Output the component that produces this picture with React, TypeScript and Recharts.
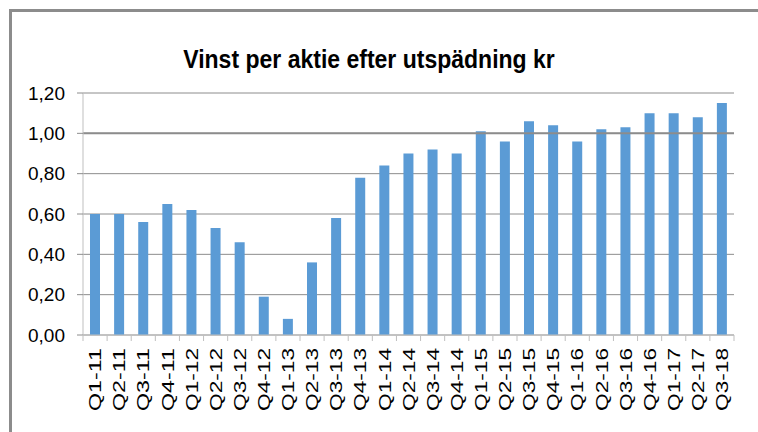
import React from "react";
import {
  BarChart,
  Bar,
  XAxis,
  YAxis,
  CartesianGrid,
  ReferenceLine,
} from "recharts";

const QUARTERS = [
  "Q1-11", "Q2-11", "Q3-11", "Q4-11",
  "Q1-12", "Q2-12", "Q3-12", "Q4-12",
  "Q1-13", "Q2-13", "Q3-13", "Q4-13",
  "Q1-14", "Q2-14", "Q3-14", "Q4-14",
  "Q1-15", "Q2-15", "Q3-15", "Q4-15",
  "Q1-16", "Q2-16", "Q3-16", "Q4-16",
  "Q1-17", "Q2-17", "Q3-18",
];

const EPS = [
  0.6, 0.6, 0.56, 0.65,
  0.62, 0.53, 0.46, 0.19,
  0.08, 0.36, 0.58, 0.78,
  0.84, 0.9, 0.92, 0.9,
  1.01, 0.96, 1.06, 1.04,
  0.96, 1.02, 1.03, 1.1,
  1.1, 1.08, 1.15,
];

const Y_TICKS = [0, 0.2, 0.4, 0.6, 0.8, 1.0, 1.2];

const TITLE = "Vinst per aktie efter utspädning kr";

const data = QUARTERS.map((q, i) => ({ q, eps: EPS[i] }));

const FONT = '"Liberation Sans", Arial, sans-serif';

// Excel-style x ticks: marks sit on the band edges, labels are rotated
function QuarterTick(props: any) {
  const { x, y, payload, index } = props;
  const half = payload?.offset ?? 0;
  const last = index === QUARTERS.length - 1;
  return (
    <g>
      <line x1={x - half} x2={x - half} y1={y - 6} y2={y} stroke="#bfbfbf" />
      {last && (
        <line x1={x + half} x2={x + half} y1={y - 6} y2={y} stroke="#bfbfbf" />
      )}
      <text
        transform={`translate(${x},${y + 7}) rotate(-90)`}
        textAnchor="end"
        dy="0.36em"
        fontSize={17}
        fontFamily={FONT}
        fill="#000"
        textLength={63}
        lengthAdjust="spacingAndGlyphs"
      >
        {payload.value}
      </text>
    </g>
  );
}

export default function App() {
  return (
    <div
      style={{
        position: "fixed",
        left: 0,
        top: 0,
        width: 758,
        height: 432,
        background: "#fff",
        overflow: "hidden",
      }}
    >
      {/* outer frame, only top and left edges are inside the picture */}
      <div
        style={{
          position: "absolute",
          left: 9,
          top: 9,
          width: 800,
          height: 500,
          borderLeft: "3px solid #8c8c8c",
          borderTop: "3px solid #8c8c8c",
        }}
      />
      <div
        style={{
          position: "absolute",
          left: 0,
          top: 47,
          width: 738,
          textAlign: "center",
          fontFamily: FONT,
          fontWeight: "bold",
          fontSize: 25,
          lineHeight: "25px",
          color: "#000",
          transform: "scaleX(0.92)",
        }}
      >
        {TITLE}
      </div>
      <div style={{ position: "absolute", left: 0, top: 0 }}>
        <BarChart
          width={758}
          height={432}
          data={data}
          margin={{ top: 93, right: 24, bottom: 17, left: 0 }}
          barCategoryGap={0}
        >
          <CartesianGrid vertical={false} stroke="#8c8c8c" />
          <ReferenceLine y={1} stroke="#8c8c8c" strokeWidth={2} />
          <XAxis
            dataKey="q"
            interval={0}
            height={80}
            tickLine={false}
            tickSize={6}
            tickMargin={0}
            axisLine={{ stroke: "#bfbfbf" }}
            tick={<QuarterTick />}
          />
          <YAxis
            width={83}
            domain={[0, 1.2]}
            ticks={Y_TICKS}
            tickSize={6}
            tickMargin={12}
            tickLine={{ stroke: "#8c8c8c" }}
            axisLine={{ stroke: "#bfbfbf" }}
            tick={{ fontSize: 19, fill: "#000", fontFamily: FONT }}
            tickFormatter={(v: number) => v.toFixed(2).replace(".", ",")}
          />
          <Bar
            dataKey="eps"
            fill="#5b9bd5"
            barSize={10}
            isAnimationActive={false}
          />
        </BarChart>
      </div>
    </div>
  );
}
